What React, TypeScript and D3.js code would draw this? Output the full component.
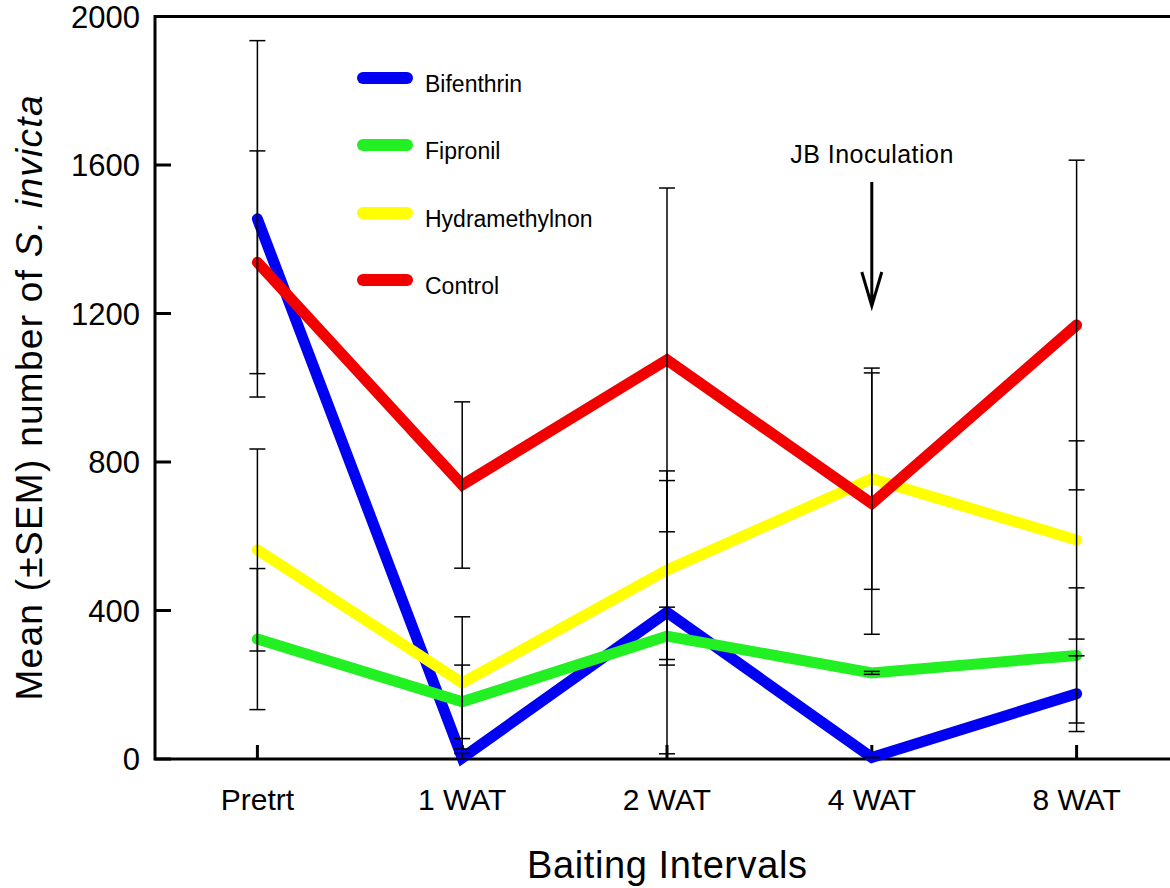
import React, { useRef, useEffect } from "react";
import * as d3 from "d3";

const WIDTH = 1170;
const HEIGHT = 888;

const categories = ["Pretrt", "1 WAT", "2 WAT", "4 WAT", "8 WAT"];
const yTicks = [0, 400, 800, 1200, 1600, 2000];

const seriesNames = ["Bifenthrin", "Fipronil", "Hydramethylnon", "Control"];
const seriesColors = ["#0000f2", "#22f022", "#ffff00", "#f20000"];

const bifenthrin = [1455, 3, 395, 4, 176];
const bifenthrinSem = [480, 12, 381, 0, 102];
const fipronil = [323, 154, 331, 232, 279];
const fipronilSem = [190, 99, 78, 4, 182];
const hydramethylnon = [563, 205, 509, 755, 590];
const hydramethylnonSem = [272, 178, 241, 298, 267];
const control = [1338, 738, 1075, 688, 1169];
const controlSem = [300, 224, 463, 352, 444];

const means = [bifenthrin, fipronil, hydramethylnon, control];
const sems = [bifenthrinSem, fipronilSem, hydramethylnonSem, controlSem];

const FONT = "'Liberation Sans', Arial, sans-serif";

function App() {
  const svgRef = useRef(null);

  useEffect(() => {
    const svg = d3.select(svgRef.current);
    svg.selectAll("*").remove();

    const margin = { left: 155, top: 16.5, bottom: 759 };

    // scales
    const x = d3
      .scalePoint()
      .domain(categories)
      .range([margin.left, margin.left + 1024])
      .padding(0.5);
    const y = d3.scaleLinear().domain([0, 2000]).range([margin.bottom, margin.top]);

    const frame = svg.append("g");
    frame
      .append("path")
      .attr("d", `M${1180},${y(2000)}H${margin.left}V${y(0)}H${1180}`)
      .attr("fill", "none")
      .attr("stroke", "#000")
      .attr("stroke-width", 3);

    // y ticks (inward)
    frame
      .selectAll(".ytick")
      .data(yTicks)
      .join("line")
      .attr("x1", margin.left)
      .attr("x2", margin.left + 16)
      .attr("y1", (d) => y(d))
      .attr("y2", (d) => y(d))
      .attr("stroke", "#000")
      .attr("stroke-width", 3);

    frame
      .selectAll(".ylab")
      .data(yTicks)
      .join("text")
      .attr("x", 140)
      .attr("y", (d) => y(d) + 11)
      .attr("text-anchor", "end")
      .attr("font-family", FONT)
      .attr("font-size", 31)
      .text((d) => d);

    // x ticks (inward)
    frame
      .selectAll(".xtick")
      .data(categories)
      .join("line")
      .attr("x1", (d) => x(d))
      .attr("x2", (d) => x(d))
      .attr("y1", y(0))
      .attr("y2", y(0) - 14)
      .attr("stroke", "#000")
      .attr("stroke-width", 3);

    frame
      .selectAll(".xlab")
      .data(categories)
      .join("text")
      .attr("x", (d) => x(d))
      .attr("y", 810)
      .attr("text-anchor", "middle")
      .attr("font-family", FONT)
      .attr("font-size", 30)
      .text((d) => d);

    // axis titles
    svg
      .append("text")
      .attr("x", 667)
      .attr("y", 878)
      .attr("text-anchor", "middle")
      .attr("font-family", FONT)
      .attr("font-size", 38)
      .attr("textLength", 280)
      .text("Baiting Intervals");

    const yTitle = svg
      .append("text")
      .attr("transform", "translate(42,398) rotate(-90)")
      .attr("text-anchor", "middle")
      .attr("font-family", FONT)
      .attr("font-size", 37)
      .attr("textLength", 605);
    yTitle.append("tspan").text("Mean (±SEM) number of ");
    yTitle.append("tspan").attr("font-style", "italic").text("S. invicta");

    // lines
    const line = d3
      .line()
      .x((d, i) => x(categories[i]))
      .y((d) => y(d));

    svg
      .append("g")
      .selectAll("path")
      .data(means)
      .join("path")
      .attr("d", (d) => line(d))
      .attr("fill", "none")
      .attr("stroke", (d, i) => seriesColors[i])
      .attr("stroke-width", 11)
      .attr("stroke-linecap", "round")
      .attr("stroke-linejoin", "miter");

    // error bars
    const bars = [];
    means.forEach((s, si) =>
      s.forEach((v, i) => bars.push({ c: categories[i], v, e: sems[si][i] }))
    );
    const eb = svg.append("g").attr("stroke", "#000").attr("stroke-width", 1.5);
    bars.forEach((b) => {
      const cx = x(b.c);
      const hi = y(Math.min(2000, b.v + b.e));
      const lo = y(Math.max(0, b.v - b.e));
      eb.append("line").attr("x1", cx).attr("x2", cx).attr("y1", hi).attr("y2", lo);
      eb.append("line").attr("x1", cx - 8).attr("x2", cx + 8).attr("y1", hi).attr("y2", hi);
      eb.append("line").attr("x1", cx - 8).attr("x2", cx + 8).attr("y1", lo).attr("y2", lo);
    });

    // legend
    const legend = svg.append("g");
    const legendY = [78, 145, 213, 280];
    seriesNames.forEach((name, i) => {
      legend
        .append("line")
        .attr("x1", 363)
        .attr("x2", 407)
        .attr("y1", legendY[i])
        .attr("y2", legendY[i])
        .attr("stroke", seriesColors[i])
        .attr("stroke-width", 12)
        .attr("stroke-linecap", "round");
      legend
        .append("text")
        .attr("x", 425)
        .attr("y", legendY[i] + 14)
        .attr("font-family", FONT)
        .attr("font-size", 23)
        .text(name);
    });

    // annotation
    const ax = x("4 WAT");
    svg
      .append("text")
      .attr("x", ax)
      .attr("y", 163)
      .attr("text-anchor", "middle")
      .attr("font-family", FONT)
      .attr("font-size", 25)
      .attr("textLength", 163)
      .text("JB Inoculation");
    svg
      .append("path")
      .attr("d", `M${ax},182V306M${ax - 10},272L${ax},306L${ax + 10},272`)
      .attr("fill", "none")
      .attr("stroke", "#000")
      .attr("stroke-width", 3);
  }, []);

  return (
    <svg
      ref={svgRef}
      width={WIDTH}
      height={HEIGHT}
      style={{ position: "absolute", left: 0, top: 0, background: "#fff" }}
    />
  );
}

export default App;
